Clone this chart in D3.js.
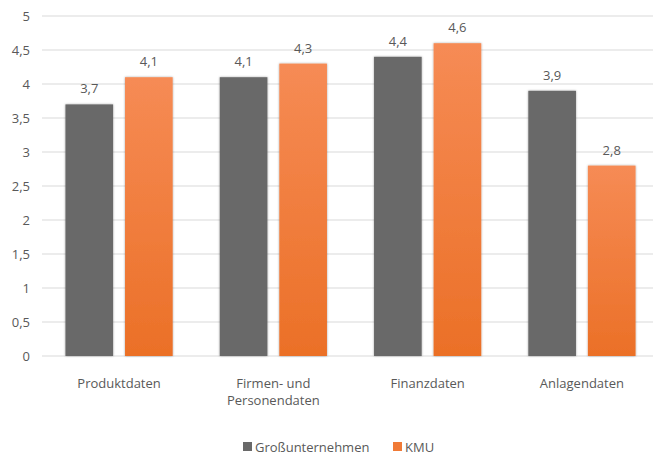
<!DOCTYPE html>
<html>
<head>
<meta charset="utf-8">
<script src="https://cdn.jsdelivr.net/npm/d3@7"></script>
<style>
  body { margin: 0; background: #fff; }
  text { font-family: "Open Sans", "Liberation Sans", sans-serif; fill: #595959; }
</style>
</head>
<body>
<div id="chart"></div>
<script>
// categories and series
const categories = [['Produktdaten'], ['Firmen- und', 'Personendaten'], ['Finanzdaten'], ['Anlagendaten']];
const seriesNames = ['Großunternehmen', 'KMU'];
const grossValues = [3.7, 4.1, 4.4, 3.9];
const kmuValues = [4.1, 4.3, 4.6, 2.8];
const yTicks = [0, 0.5, 1, 1.5, 2, 2.5, 3, 3.5, 4, 4.5, 5];

const width = 653, height = 455;
const margin = {top: 16, right: -6, bottom: 99, left: 42};

const svg = d3.select('#chart').append('svg')
  .attr('width', width).attr('height', height);

const defs = svg.append('defs');
const grad = defs.append('linearGradient').attr('id', 'orangeGrad')
  .attr('x1', 0).attr('y1', 0).attr('x2', 0).attr('y2', 1);
grad.append('stop').attr('offset', '0%').attr('stop-color', '#F68B55');
grad.append('stop').attr('offset', '100%').attr('stop-color', '#EB7027');

const shadow = defs.append('filter').attr('id', 'shadow')
  .attr('x', '-20%').attr('y', '-10%').attr('width', '140%').attr('height', '120%');
shadow.append('feDropShadow').attr('dx', 0).attr('dy', 0).attr('stdDeviation', 1.2)
  .attr('flood-color', '#000').attr('flood-opacity', 0.35);

const x0 = d3.scaleBand()
  .domain(d3.range(categories.length))
  .range([margin.left, width - margin.right])
  .paddingInner(0.305).paddingOuter(0.152);

const x1 = d3.scaleBand()
  .domain([0, 1])
  .range([0, x0.bandwidth()])
  .paddingInner(0.2);

const y = d3.scaleLinear().domain([0, 5]).range([height - margin.bottom, margin.top]);

// gridlines
svg.append('g')
  .selectAll('line').data(yTicks).join('line')
  .attr('x1', margin.left).attr('x2', width)
  .attr('y1', d => y(d)).attr('y2', d => y(d))
  .attr('stroke', '#D9D9D9').attr('stroke-width', 1);

// y tick labels
svg.append('g')
  .selectAll('text').data(yTicks).join('text')
  .attr('x', 30).attr('y', d => y(d)).attr('dy', '0.35em')
  .attr('text-anchor', 'end').attr('font-size', 13)
  .text(d => String(d).replace('.', ','));

const rows = categories.map((c, i) => ({i, vals: [grossValues[i], kmuValues[i]]}));
const fills = ['#696969', 'url(#orangeGrad)'];

const groups = svg.append('g').selectAll('g').data(rows).join('g')
  .attr('transform', d => `translate(${x0(d.i)},0)`);

groups.selectAll('rect').data(d => d.vals.map((v, s) => ({v, s}))).join('rect')
  .attr('x', d => x1(d.s)).attr('width', x1.bandwidth())
  .attr('y', d => y(d.v)).attr('height', d => y(0) - y(d.v))
  .attr('fill', d => fills[d.s])
  .attr('filter', 'url(#shadow)');

groups.selectAll('text.val').data(d => d.vals.map((v, s) => ({v, s}))).join('text')
  .attr('class', 'val')
  .attr('x', d => x1(d.s) + x1.bandwidth() / 2).attr('y', d => y(d.v) - 11)
  .attr('text-anchor', 'middle').attr('font-size', 13)
  .text(d => String(d.v).replace('.', ','));

// category labels
svg.append('g').selectAll('text').data(categories).join('text')
  .attr('x', (d, i) => x0(i) + x0.bandwidth() / 2)
  .attr('y', 388)
  .attr('text-anchor', 'middle').attr('font-size', 13)
  .each(function(d){
    d3.select(this).selectAll('tspan').data(d).join('tspan')
      .attr('x', d3.select(this).attr('x'))
      .attr('dy', (t, k) => k === 0 ? 0 : 17)
      .text(t => t);
  });

// legend
const legendX = [243, 393];
const legendColors = ['#696969', '#F07A36'];
const legend = svg.append('g').selectAll('g').data(seriesNames).join('g')
  .attr('transform', (d, i) => `translate(${legendX[i]},447)`);
legend.append('rect').attr('x', 0).attr('y', -5).attr('width', 9).attr('height', 9)
  .attr('fill', (d, i) => legendColors[i]);
legend.append('text').attr('x', 12).attr('y', 0).attr('dy', '0.35em')
  .attr('font-size', 13).text(d => d);
</script>
</body>
</html>
